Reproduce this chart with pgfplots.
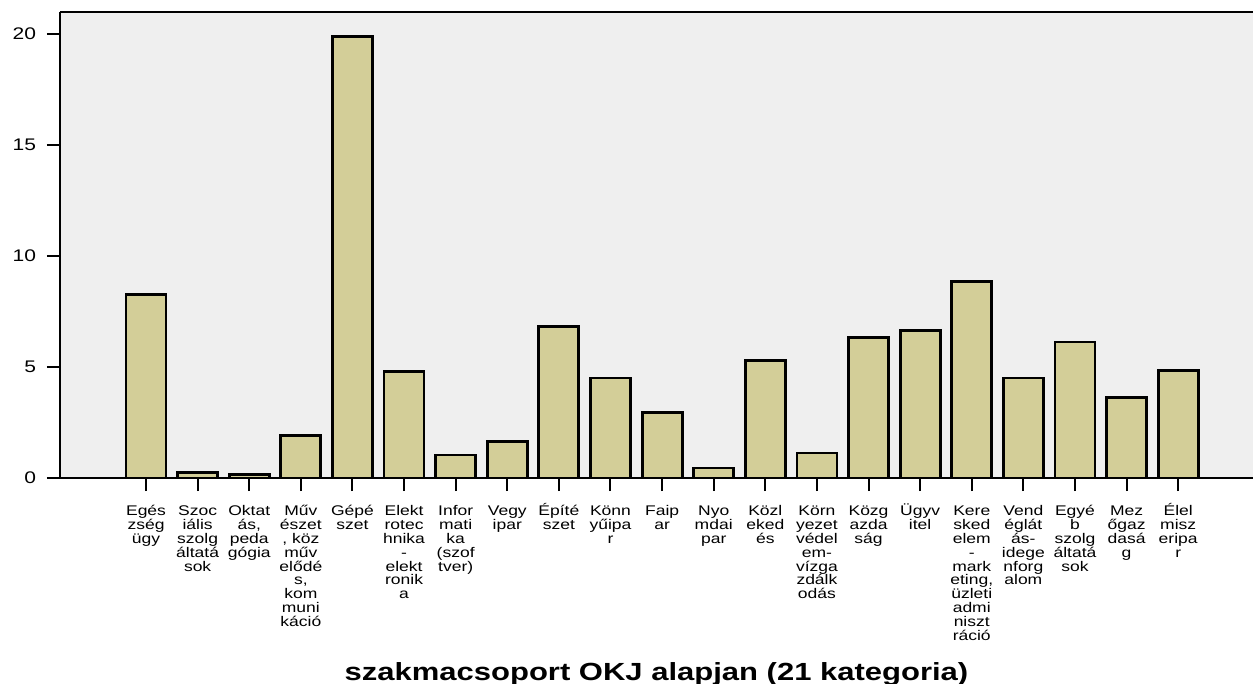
\documentclass[border=0pt]{standalone}
\usepackage{fontspec}
\setmainfont{Liberation Sans}[FakeStretch=1.25]
\usepackage{pgfplots}
\pgfplotsset{compat=1.18}
\definecolor{barfill}{HTML}{D3CE98}
\definecolor{plotbg}{HTML}{EFEFEF}
% same first-line height for every tick label, so the accented capitals do not push it down
\newcommand\fl{\rule{0pt}{6.6bp}}

\begin{document}
\begin{tikzpicture}
  % page = 1253x684 px at 0.5bp per px
  \path[use as bounding box] (-30bp,-103bp) rectangle (596.5bp,239bp);
  \begin{axis}[
    scale only axis,
    width=596.5bp, height=233bp,
    at={(0,0)}, anchor=south west,
    xmin=-0.667, xmax=22.45,
    ymin=0, ymax=21,
    axis x line*=box, axis y line*=left,
    xtick pos=lower, ytick pos=lower,
    axis background/.style={fill=plotbg},
    axis line style={line width=1bp},
    every tick/.style={black, line width=1bp},
    tick align=outside,
    major tick length=6.5bp,
    xtick={1,...,21},
    ytick={0,5,10,15,20},
    /pgf/number format/assume math mode=true,
    yticklabel style={font=\fontsize{8.4bp}{10bp}\selectfont, xshift=-2bp},
    xticklabel style={align=center, font=\fontsize{7bp}{6.9bp}\selectfont, yshift=-2.3bp},
    xticklabels={
      {\fl Egés\\zség\\ügy},
      {\fl Szoc\\iális\\szolg\\áltatá\\sok},
      {\fl Oktat\\ás,\\peda\\gógia},
      {\fl Műv\\észet\\, köz\\műv\\elődé\\s,\\kom\\muni\\káció},
      {\fl Gépé\\szet},
      {\fl Elekt\\rotec\\hnika\\-\\elekt\\ronik\\a},
      {\fl Infor\\mati\\ka\\(szof\\tver)},
      {\fl Vegy\\ipar},
      {\fl Építé\\szet},
      {\fl Könn\\yűipa\\r},
      {\fl Faip\\ar},
      {\fl Nyo\\mdai\\par},
      {\fl Közl\\eked\\és},
      {\fl Körn\\yezet\\védel\\em-\\vízga\\zdálk\\odás},
      {\fl Közg\\azda\\ság},
      {\fl Ügyv\\itel},
      {\fl Kere\\sked\\elem\\-\\mark\\eting,\\üzleti\\admi\\niszt\\ráció},
      {\fl Vend\\églát\\ás-\\idege\\nforg\\alom},
      {\fl Egyé\\b\\szolg\\áltatá\\sok},
      {\fl Mez\\őgaz\\dasá\\g},
      {\fl Élel\\misz\\eripa\\r}
    },
    xlabel={szakmacsoport OKJ alapjan (21 kategoria)},
    xlabel style={at={(axis description cs:0.5,0)}, anchor=base, yshift=-101bp,
      font=\fontsize{12.4bp}{14bp}\selectfont\bfseries},
  ]
    \addplot[ybar, bar width=0.775, fill=barfill, draw=black, line width=1.4bp]
      coordinates {
        (1,8.27) (2,0.25) (3,0.15) (4,1.91) (5,19.91) (6,4.81) (7,1.04)
        (8,1.65) (9,6.84) (10,4.51) (11,2.96) (12,0.45) (13,5.29) (14,1.13)
        (15,6.34) (16,6.64) (17,8.85) (18,4.51) (19,6.13) (20,3.62) (21,4.85)
      };
  \end{axis}
\end{tikzpicture}
\end{document}
